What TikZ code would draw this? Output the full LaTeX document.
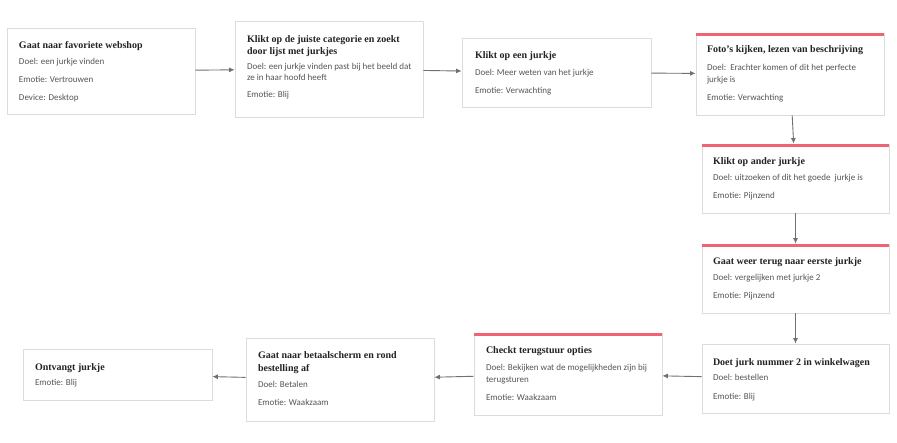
\documentclass[tikz,border=0pt]{standalone}
\usepackage{fontspec}
\setmainfont{Liberation Serif}
\newfontfamily\bodyfam{Carlito}
\usetikzlibrary{arrows.meta}
\definecolor{bordergray}{HTML}{DCDCDC}
\definecolor{titlecol}{HTML}{222222}
\definecolor{bodycol}{HTML}{555555}
\definecolor{arrowcol}{HTML}{707070}
\definecolor{barred}{HTML}{EE6470}
\newcommand\tline[2]{\hbox{\vrule height #1pt depth 0pt width 0pt\smash{#2}}}
\newcommand\ttl[1]{{\fontsize{10}{12}\selectfont\bfseries\color{titlecol}#1}}
\newcommand\bdy[1]{{\bodyfam\fontsize{9}{11}\selectfont\color{bodycol}#1}}
% title first line, second title line, body after title, body wrap, new paragraph
\newcommand\TA[1]{\tline{10}{\ttl{#1}}}
\newcommand\TB[1]{\tline{12.5}{\ttl{#1}}}
\newcommand\BA[1]{\tline{16.5}{\bdy{#1}}}
\newcommand\BW[1]{\tline{11.5}{\bdy{#1}}}
\newcommand\BP[1]{\tline{18}{\bdy{#1}}}
\newcommand\cardat[5]{\node[card, minimum width={#4-#2}, minimum height={#5-#3}] (#1) at ({(#2+#4)/2},{(#3+#5)/2}) {};}
\tikzset{
  card/.style={draw=bordergray, fill=white, line width=0.8pt, inner sep=0pt, rectangle},
  txt/.style={anchor=north west, inner sep=0pt, outer sep=0pt},
  flow/.style={draw=arrowcol, line width=0.9pt, -{Latex[length=5.5pt,width=5pt]}},
  redbar/.style={draw=barred, line width=3pt}
}
\begin{document}
\begin{tikzpicture}[x=1pt,y=-1pt]
\useasboundingbox (0,0) rectangle (897,443);
\fill[white] (0,0) rectangle (897,443);
\cardat{b1}{7}{28}{195}{114}
\cardat{b2}{235}{21}{423}{117}
\cardat{b3}{462}{38}{651}{107}
\cardat{b4}{696}{33}{884}{115}
\cardat{b5}{702}{144}{889}{213}
\cardat{b6}{702}{244}{889}{313}
\cardat{b7}{702}{344}{889}{413}
\cardat{b8}{474}{333}{662}{415}
\cardat{b9}{246}{338}{434}{421}
\cardat{b10}{23}{349}{212}{400}
\foreach \b in {b4,b5,b6,b8}{
  \draw[redbar] ([yshift=-1.5pt]\b.north west) -- ([yshift=-1.5pt]\b.north east);
}
\node[txt] (t1) at (19,38.5) {\vbox{\offinterlineskip
  \TA{Gaat naar favoriete webshop}
  \BA{Doel: een jurkje vinden}
  \BP{Emotie: Vertrouwen}
  \BP{Device: Desktop}}};
\node[txt] (t2) at (247,32.5) {\vbox{\offinterlineskip
  \TA{Klikt op de juiste categorie en zoekt}
  \TB{door lijst met jurkjes}
  \tline{14.5}{\bdy{Doel: een jurkje vinden past bij het beeld dat}}
  \BW{ze in haar hoofd heeft}
  \tline{17}{\bdy{Emotie: Blij}}}};
\node[txt] (t3) at (475,48.5) {\vbox{\offinterlineskip
  \TA{Klikt op een jurkje}
  \tline{17.5}{\bdy{Doel: Meer weten van het jurkje}}
  \BP{Emotie: Verwachting}}};
\node[txt] (t4) at (707,42.5) {\vbox{\offinterlineskip
  \TA{Foto's kijken, lezen van beschrijving}
  \tline{18.5}{\bdy{Doel:\ \ Erachter komen of dit het perfecte}}
  \BW{jurkje is}
  \tline{18.5}{\bdy{Emotie: Verwachting}}}};
\node[txt] (t5) at (713,154.5) {\vbox{\offinterlineskip
  \TA{Klikt op ander jurkje}
  \BA{Doel: uitzoeken of dit het goede\ \ jurkje is}
  \BP{Emotie: Pijnzend}}};
\node[txt] (t6) at (713,254.5) {\vbox{\offinterlineskip
  \TA{Gaat weer terug naar eerste jurkje}
  \BA{Doel: vergelijken met jurkje 2}
  \BP{Emotie: Pijnzend}}};
\node[txt] (t7) at (713,355.5) {\vbox{\offinterlineskip
  \TA{Doet jurk nummer 2 in winkelwagen}
  \tline{15.5}{\bdy{Doel: bestellen}}
  \tline{19}{\bdy{Emotie: Blij}}}};
\node[txt] (t8) at (486,343.5) {\vbox{\offinterlineskip
  \TA{Checkt terugstuur opties}
  \tline{17.5}{\bdy{Doel: Bekijken wat de mogelijkheden zijn bij}}
  \tline{12}{\bdy{terugsturen}}
  \BP{Emotie: Waakzaam}}};
\node[txt] (t9) at (258,348.5) {\vbox{\offinterlineskip
  \TA{Gaat naar betaalscherm en rond}
  \tline{13}{\ttl{bestelling af}}
  \BA{Doel: Betalen}
  \BP{Emotie: Waakzaam}}};
\node[txt] (t10) at (35,360.5) {\vbox{\offinterlineskip
  \TA{Ontvangt jurkje}
  \tline{15.5}{\bdy{Emotie: Blij}}}};
\draw[flow] (b1) -- (b2);
\draw[flow] (b2) -- (b3);
\draw[flow] (b3) -- (b4);
\draw[flow] (b4) -- (b5);
\draw[flow] (b5) -- (b6);
\draw[flow] (b6) -- (b7);
\draw[flow] (b7) -- (b8);
\draw[flow] (b8) -- (b9);
\draw[flow] (b9) -- (b10);
\end{tikzpicture}
\end{document}
